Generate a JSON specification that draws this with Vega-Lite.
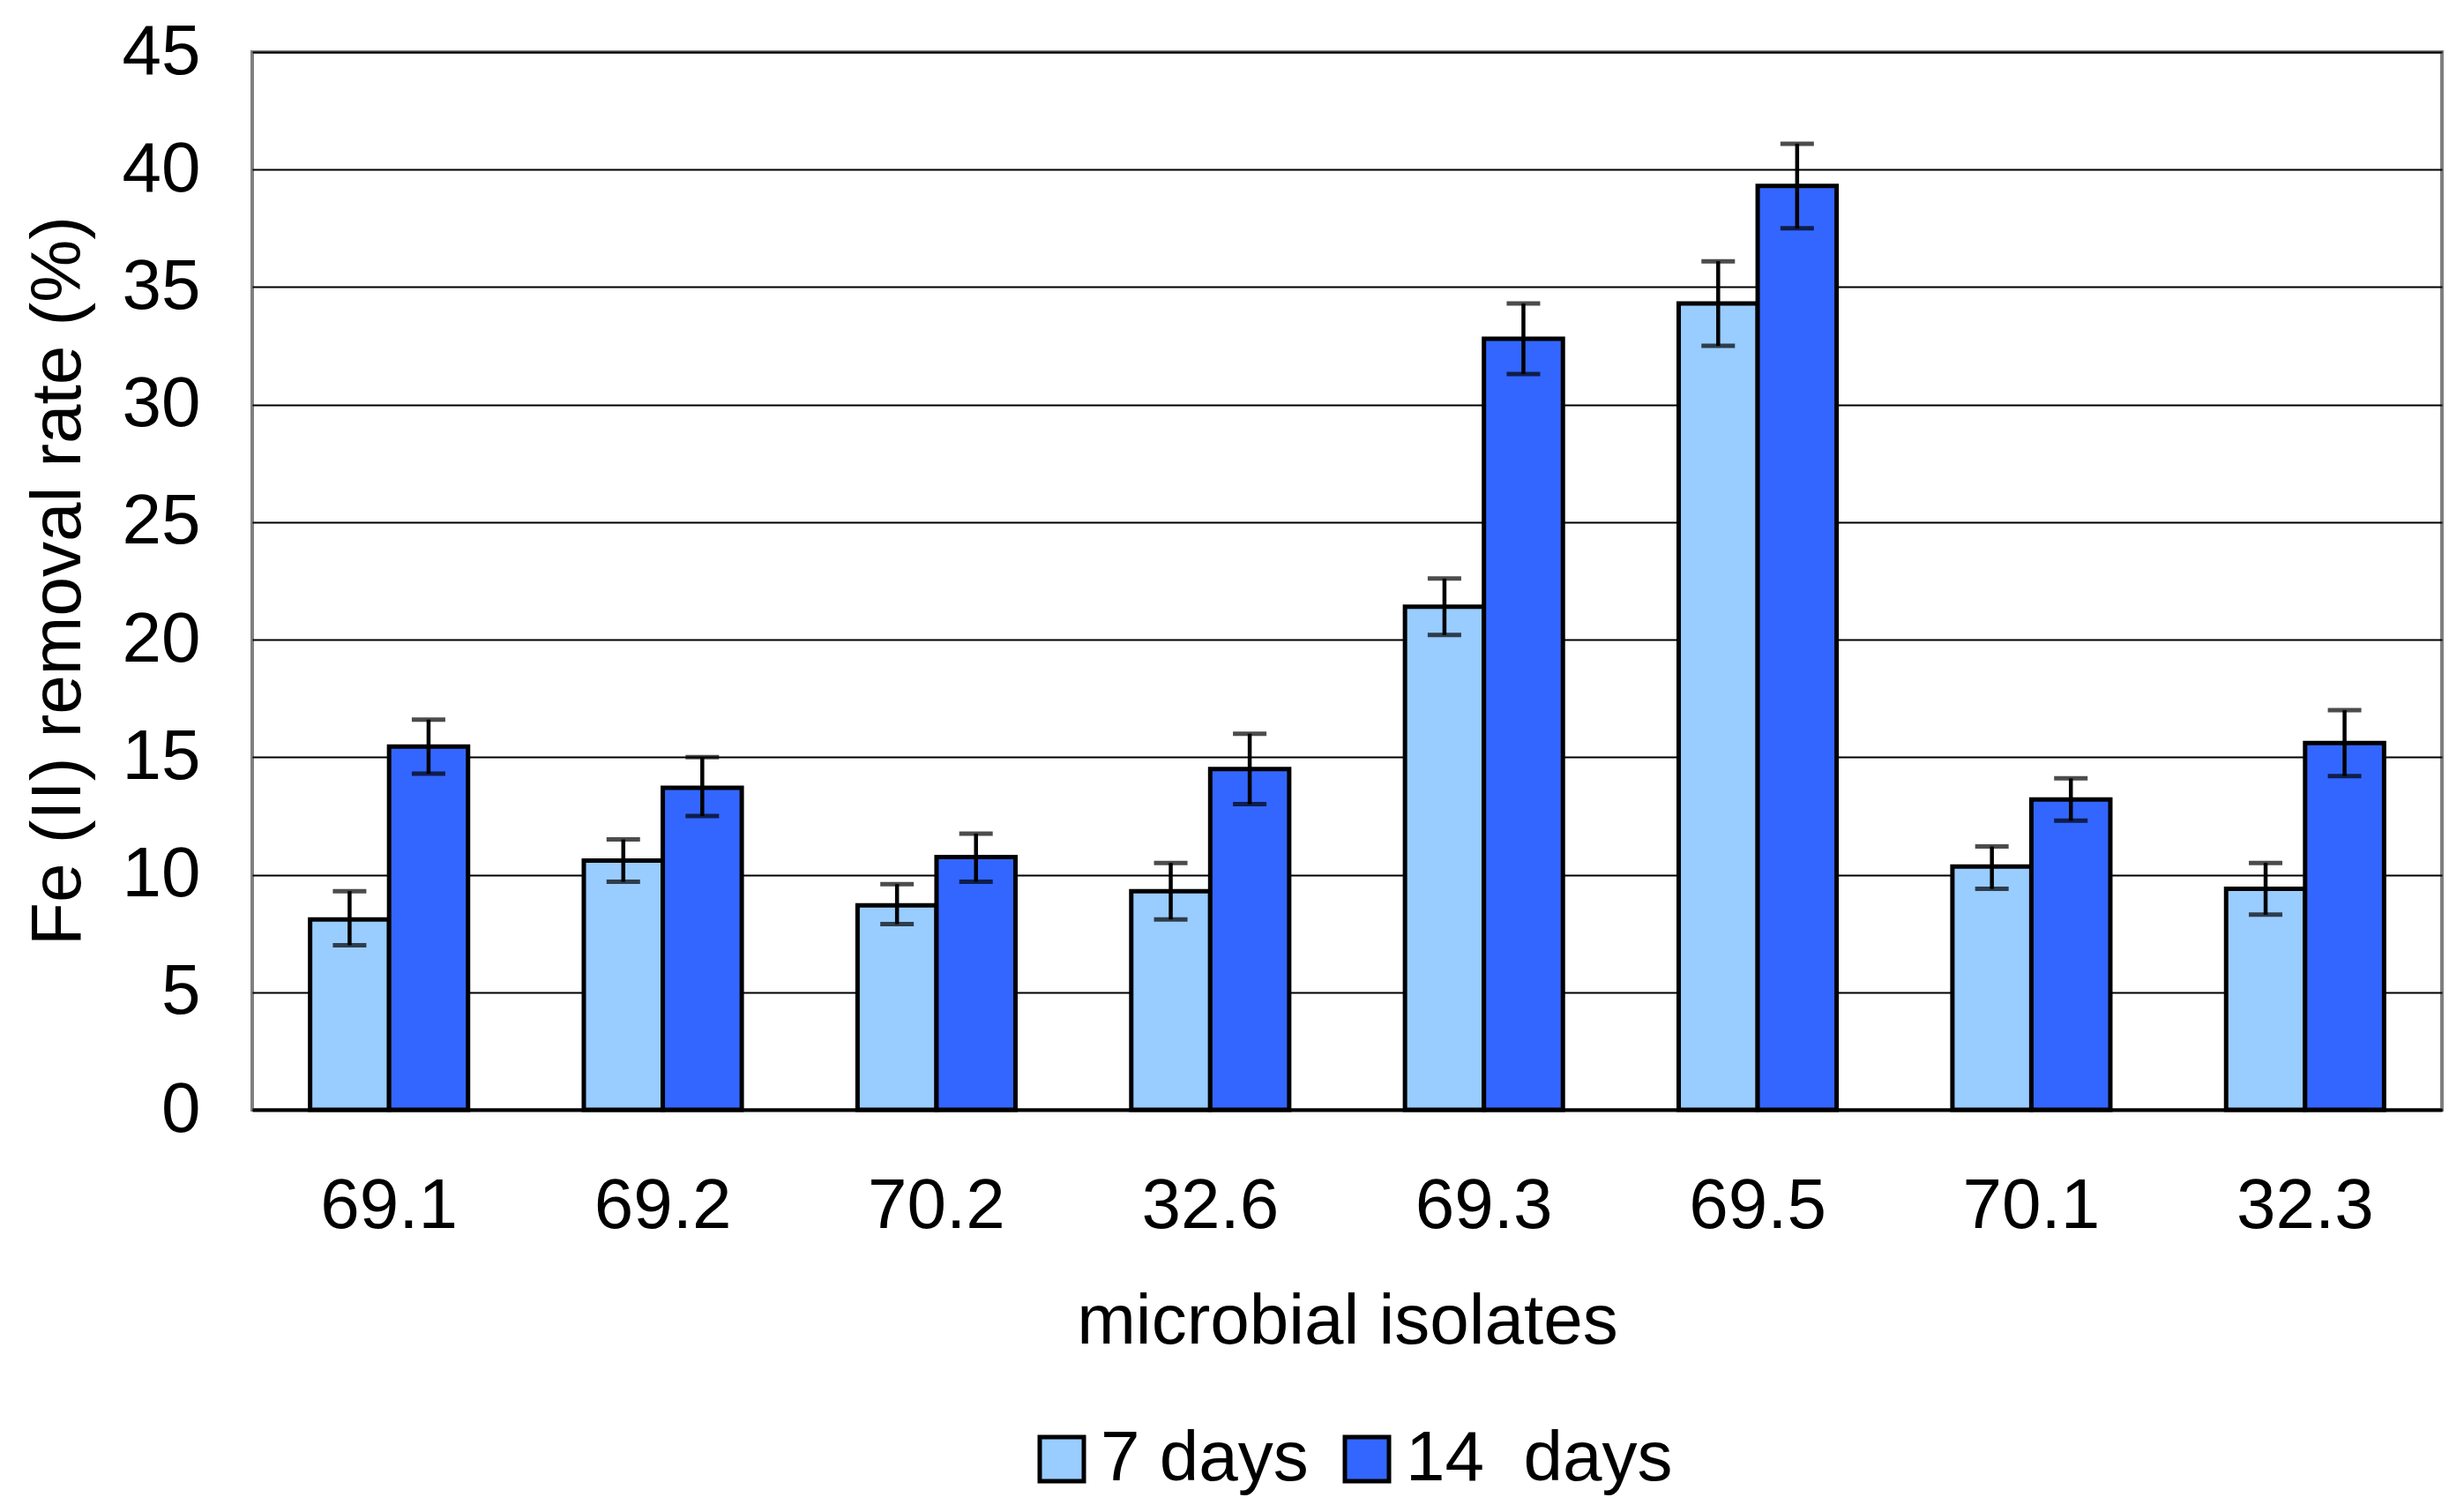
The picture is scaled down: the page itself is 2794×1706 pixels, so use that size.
{
  "$schema": "https://vega.github.io/schema/vega-lite/v6.json",
  "autosize": "none",
  "padding": {"left": 286, "top": 59, "right": 25, "bottom": 448},
  "width": 2483,
  "height": 1199,
  "background": "white",
  "config": {
    "font": "Liberation Sans",
    "view": {"stroke": "#808080", "strokeWidth": 4},
    "axis": {"labelFont": "Liberation Sans", "titleFont": "Liberation Sans", "labelColor": "black", "titleColor": "black", "titleFontWeight": "normal"}
  },
  "data": {
    "values": [
      {"isolate": "69.1", "period": "7 days", "value": 8.1, "lo": 7.0, "hi": 9.3},
      {"isolate": "69.1", "period": "14 \u00a0days", "value": 15.45, "lo": 14.3, "hi": 16.6},
      {"isolate": "69.2", "period": "7 days", "value": 10.6, "lo": 9.7, "hi": 11.5},
      {"isolate": "69.2", "period": "14 \u00a0days", "value": 13.7, "lo": 12.5, "hi": 15.0},
      {"isolate": "70.2", "period": "7 days", "value": 8.7, "lo": 7.9, "hi": 9.6},
      {"isolate": "70.2", "period": "14 \u00a0days", "value": 10.75, "lo": 9.7, "hi": 11.75},
      {"isolate": "32.6", "period": "7 days", "value": 9.3, "lo": 8.1, "hi": 10.5},
      {"isolate": "32.6", "period": "14 \u00a0days", "value": 14.5, "lo": 13.0, "hi": 16.0},
      {"isolate": "69.3", "period": "7 days", "value": 21.4, "lo": 20.2, "hi": 22.6},
      {"isolate": "69.3", "period": "14 \u00a0days", "value": 32.8, "lo": 31.3, "hi": 34.3},
      {"isolate": "69.5", "period": "7 days", "value": 34.3, "lo": 32.5, "hi": 36.1},
      {"isolate": "69.5", "period": "14 \u00a0days", "value": 39.3, "lo": 37.5, "hi": 41.1},
      {"isolate": "70.1", "period": "7 days", "value": 10.35, "lo": 9.4, "hi": 11.2},
      {"isolate": "70.1", "period": "14 \u00a0days", "value": 13.2, "lo": 12.3, "hi": 14.1},
      {"isolate": "32.3", "period": "7 days", "value": 9.4, "lo": 8.3, "hi": 10.5},
      {"isolate": "32.3", "period": "14 \u00a0days", "value": 15.6, "lo": 14.2, "hi": 17.0}
    ]
  },
  "encoding": {
    "x": {
      "field": "isolate", "type": "nominal", "sort": null,
      "scale": {"paddingInner": 0.423, "paddingOuter": 0.2115},
      "axis": {
        "title": "microbial isolates", "labelAngle": 0, "labelFontSize": 80, "titleFontSize": 80,
        "ticks": false, "labelPadding": 109, "labelBaseline": "middle",
        "domainColor": "black", "domainWidth": 4,
        "titleY": 240, "titleBaseline": "middle"
      }
    },
    "xOffset": {"field": "period", "type": "nominal", "scale": {"domain": ["7 days", "14 \u00a0days"]}}
  },
  "layer": [
    {
      "mark": {"type": "bar", "stroke": "black", "strokeWidth": 5},
      "encoding": {
        "y": {
          "field": "value", "type": "quantitative",
          "scale": {"domain": [0, 45], "nice": false},
          "axis": {
            "title": "Fe (II) removal rate (%)", "values": [0, 5, 10, 15, 20, 25, 30, 35, 40, 45],
            "labelFontSize": 80, "titleFontSize": 80, "ticks": false, "labelPadding": 59,
            "domain": false, "gridColor": "black", "gridWidth": 2, "gridOpacity": 1,
            "titleX": -220, "titleY": 599, "titleAlign": "center", "titleBaseline": "middle", "titleAngle": -90
          }
        },
        "color": {
          "field": "period", "type": "nominal",
          "scale": {"domain": ["7 days", "14 \u00a0days"], "range": ["#99CCFF", "#3366FF"]},
          "legend": {
            "title": null, "orient": "none", "direction": "horizontal", "legendX": 878, "legendY": 1555,
            "symbolType": "square", "symbolSize": 2500, "symbolStrokeColor": "black", "symbolStrokeWidth": 5,
            "symbolOpacity": 1, "labelFontSize": 80, "labelFont": "Liberation Sans", "labelColor": "black",
            "labelLimit": 0, "labelOffset": 4, "columnPadding": 26, "padding": 0
          }
        }
      }
    },
    {
      "mark": {"type": "rule", "color": "black", "strokeWidth": 4.5},
      "encoding": {
        "y": {"field": "lo", "type": "quantitative"},
        "y2": {"field": "hi"}
      }
    },
    {
      "mark": {"type": "tick", "color": "black", "size": 38, "thickness": 5, "orient": "horizontal"},
      "encoding": {"y": {"field": "lo", "type": "quantitative"}}
    },
    {
      "mark": {"type": "tick", "color": "black", "size": 38, "thickness": 5, "orient": "horizontal"},
      "encoding": {"y": {"field": "hi", "type": "quantitative"}}
    }
  ]
}
